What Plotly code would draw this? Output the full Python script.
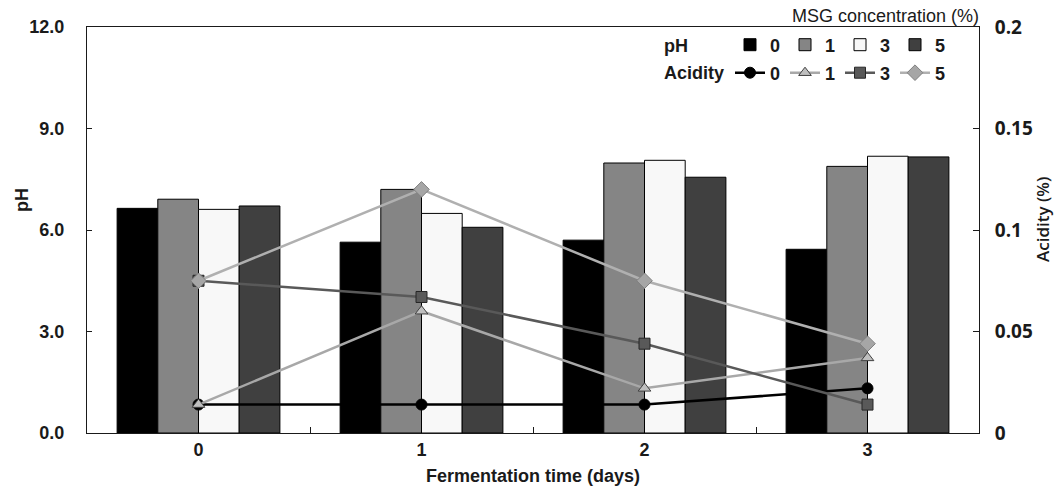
import plotly.graph_objects as go

days = ["0", "1", "2", "3"]
msg_levels = ["0", "1", "3", "5"]

# pH (bars), per MSG concentration
ph_0 = [6.64, 5.64, 5.70, 5.43]
ph_1 = [6.91, 7.20, 7.98, 7.88]
ph_3 = [6.61, 6.49, 8.06, 8.18]
ph_5 = [6.71, 6.08, 7.56, 8.16]

# Acidity (%) (lines), per MSG concentration
ac_0 = [0.014, 0.014, 0.014, 0.022]
ac_1 = [0.014, 0.060, 0.022, 0.037]
ac_3 = [0.075, 0.067, 0.044, 0.014]
ac_5 = [0.075, 0.120, 0.075, 0.044]

y_ticks = [0, 3, 6, 9, 12]
y2_ticks = [0, 0.05, 0.1, 0.15, 0.2]
y2_ticktext = ["0", "0.05", "0.1", "0.15", "0.2"]

W, H = 1058, 491
L, R, T, B = 87, 79, 27, 58
PW, PH = W - L - R, H - T - B

def px(x):
    return (x - L) / PW

def py(y):
    return (H - B - y) / PH

bar_fills = ["#000000", "#858585", "#f8f8f8", "#404040"]
ph_series = [ph_0, ph_1, ph_3, ph_5]

fig = go.Figure()
for name, vals, col in zip(msg_levels, ph_series, bar_fills):
    fig.add_trace(go.Bar(
        x=days, y=vals, name=name, marker=dict(color=col, line=dict(color="#000000", width=1)),
        legend="legend", yaxis="y",
    ))

line_styles = [
    dict(line="#000000", fill="#000000", edge="#000000", symbol="circle", size=11),
    dict(line="#a8a8a8", fill="#bfbfbf", edge="#404040", symbol="triangle-up", size=11),
    dict(line="#595959", fill="#595959", edge="#262626", symbol="square", size=11),
    dict(line="#b0b0b0", fill="#a6a6a6", edge="#808080", symbol="diamond", size=12),
]
ac_series = [ac_0, ac_1, ac_3, ac_5]
for name, vals, st in zip(msg_levels, ac_series, line_styles):
    fig.add_trace(go.Scatter(
        x=days, y=vals, name=name, mode="lines+markers", yaxis="y2", legend="legend2",
        line=dict(color=st["line"], width=2.5),
        marker=dict(symbol=st["symbol"], size=st["size"], color=st["fill"],
                    line=dict(color=st["edge"], width=1)),
    ))

fig.update_layout(
    width=W, height=H,
    margin=dict(l=L, r=R, t=T, b=B, pad=0, autoexpand=False),
    plot_bgcolor="white", paper_bgcolor="white",
    barmode="group", bargap=0.27, bargroupgap=0,
    font=dict(family="Liberation Sans", size=18, color="#1a1a1a"),
    xaxis=dict(
        type="category", showline=True, linecolor="#1a1a1a", linewidth=1, mirror=True,
        ticks="inside", tickson="boundaries", ticklen=6, tickcolor="#1a1a1a",
        tickfont=dict(family="Liberation Sans", size=18, color="#1a1a1a", weight="bold"),
        title=dict(text="<b>Fermentation time (days)</b>", font=dict(family="Liberation Sans", size=18),
                   standoff=10),
        showgrid=False,
    ),
    yaxis=dict(
        range=[0, 12], tickvals=y_ticks, tickformat=".1f", showline=True, linecolor="#1a1a1a",
        linewidth=1, ticks="inside", ticklen=5, tickcolor="#1a1a1a", showgrid=False, zeroline=False,
        tickfont=dict(family="Liberation Sans", size=18, color="#1a1a1a", weight="bold"),
        ticklabelstandoff=18,
    ),
    yaxis2=dict(
        range=[0, 0.2], tickvals=y2_ticks, ticktext=y2_ticktext, overlaying="y", side="right",
        showline=True, linecolor="#1a1a1a", linewidth=1, ticks="inside", ticklen=6,
        tickcolor="#1a1a1a", showgrid=False, zeroline=False,
        tickfont=dict(family="Open Sans", size=19, color="#1a1a1a", weight="bold"),
        ticklabelstandoff=11,
    ),
    legend=dict(
        orientation="h", xref="container", yref="container", x=730 / W, y=1 - 45 / H,
        xanchor="left", yanchor="middle", entrywidthmode="pixels", entrywidth=10,
        font=dict(family="Liberation Sans", size=18, color="#1a1a1a", weight="bold"),
        bgcolor="rgba(0,0,0,0)", traceorder="normal", itemclick=False,
    ),
    legend2=dict(
        orientation="h", xref="container", yref="container", x=730 / W, y=1 - 73 / H,
        xanchor="left", yanchor="middle", entrywidthmode="pixels", entrywidth=10,
        font=dict(family="Liberation Sans", size=18, color="#1a1a1a", weight="bold"),
        bgcolor="rgba(0,0,0,0)", traceorder="normal", itemclick=False,
    ),
    showlegend=True,
)

annos = [
    dict(text="<b>pH</b>", x=px(22), y=py(200), textangle=-90,
         font=dict(family="Liberation Sans", size=18)),
    dict(text="Acidity (%)", x=px(1042), y=py(220), textangle=-90,
         font=dict(family="Open Sans", size=17, weight=600)),
    dict(text="MSG concentration (%)", x=px(981), y=py(16), xanchor="right",
         font=dict(family="Liberation Sans", size=18)),
    dict(text="<b>pH</b>", x=px(662), y=py(46), xanchor="left",
         font=dict(family="Liberation Sans", size=18)),
    dict(text="<b>Acidity</b>", x=px(662), y=py(73), xanchor="left",
         font=dict(family="Liberation Sans", size=18)),
]
for a in annos:
    a.update(xref="paper", yref="paper", showarrow=False, yanchor="middle")
    a.setdefault("xanchor", "center")
    fig.add_annotation(**a)

fig.write_html("out.html")
